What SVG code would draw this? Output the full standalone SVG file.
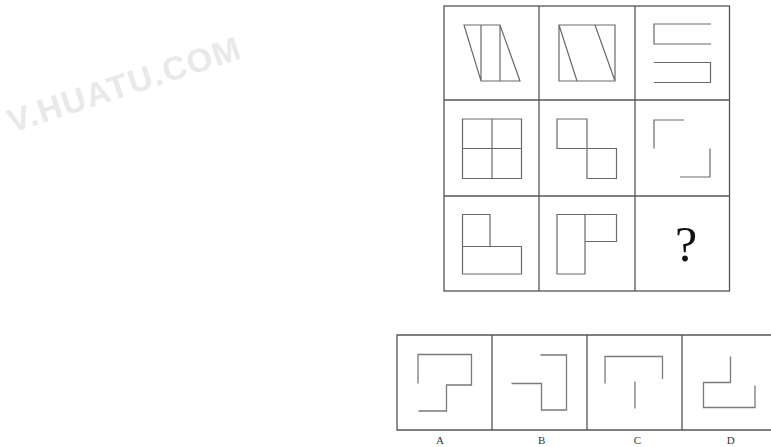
<svg xmlns="http://www.w3.org/2000/svg" width="771" height="447" viewBox="0 0 771 447">
<style>
.grid{fill:none;stroke:#555;stroke-width:1.3}
.fig{fill:none;stroke:#6a6a6a;stroke-width:1.2;stroke-linejoin:miter}
.opt{fill:none;stroke:#7a7a7a;stroke-width:1.3}
.lbl{font-family:"Liberation Serif",serif;font-size:11px;fill:#333;text-anchor:middle}
.wm{font-family:"Liberation Sans",Arial,sans-serif;font-weight:bold;font-size:33px;fill:#e9e9e9;letter-spacing:1.5px}
</style>
<rect width="771" height="447" fill="#fff"/>
<g id="watermark"><text class="wm" x="12" y="133" transform="rotate(-18 12 133)">V.HUATU.COM</text></g>
<g id="grid">
<rect class="grid" x="444" y="6" width="285.5" height="285"/>
<line class="grid" x1="539" y1="6" x2="539" y2="291"/>
<line class="grid" x1="635" y1="6" x2="635" y2="291"/>
<line class="grid" x1="444" y1="100" x2="729.5" y2="100"/>
<line class="grid" x1="444" y1="196" x2="729.5" y2="196"/>
</g>
<g id="cell-1-1">
<path class="fig" d="M464,25 H500 L520,81 H481 Z M481,25 V81 M500,25 V81"/>
</g>
<g id="cell-1-2">
<path class="fig" d="M559,25 H615 V81 H559 Z M559,25 L577,81 M595,25 L615,81"/>
</g>
<g id="cell-1-3">
<path class="fig" d="M711,24 H654 V44 H711 M654,62.5 H710.5 V82.5 H654"/>
</g>
<g id="cell-2-1">
<path class="fig" d="M462.5,119 H521.5 V178.5 H462.5 Z M492,119 V178.5 M462.5,148.5 H521.5"/>
</g>
<g id="cell-2-2">
<path class="fig" d="M557,119 H587 V148.5 H557 Z M587,148.5 H616.5 V178.5 H587 Z"/>
</g>
<g id="cell-2-3">
<path class="fig" d="M654,148.5 V120 H684 M710,148.5 V177 H680"/>
</g>
<g id="cell-3-1">
<path class="fig" d="M462.5,246.5 V214.5 H490 V246.5 M462.5,246.5 H521.5 V274 H462.5 Z"/>
</g>
<g id="cell-3-2">
<path class="fig" d="M557,214.5 H585 V274 H557 Z M585,214.5 H616.5 V241.5 H585"/>
</g>
<g id="cell-3-3">
<text x="686" y="261" font-family="'Liberation Serif',serif" font-size="50" fill="#111" text-anchor="middle">?</text>
</g>
<g id="options">
<path class="grid" d="M771,335 H397 V430 H771 M492,335 V430 M587,335 V430 M682,335 V430" stroke="#666"/>
</g>
<g id="option-A">
<path class="opt" d="M418,383.5 V354.5 H471.5 V385 H446.5 V411 H418.5"/>
<text class="lbl" x="440" y="444">A</text>
</g>
<g id="option-B">
<path class="opt" d="M511.5,383.5 H541.5 V410 H566.5 V355 H540.5"/>
<text class="lbl" x="541.7" y="444">B</text>
</g>
<g id="option-C">
<path class="opt" d="M605,383.5 V356.5 H662.5 V379 M635,381.5 V408.5"/>
<text class="lbl" x="637.3" y="444">C</text>
</g>
<g id="option-D">
<path class="opt" d="M730.5,356.5 V382.5 H703.5 V407.5 H755 V385.5"/>
<text class="lbl" x="730.7" y="444">D</text>
</g>
</svg>
